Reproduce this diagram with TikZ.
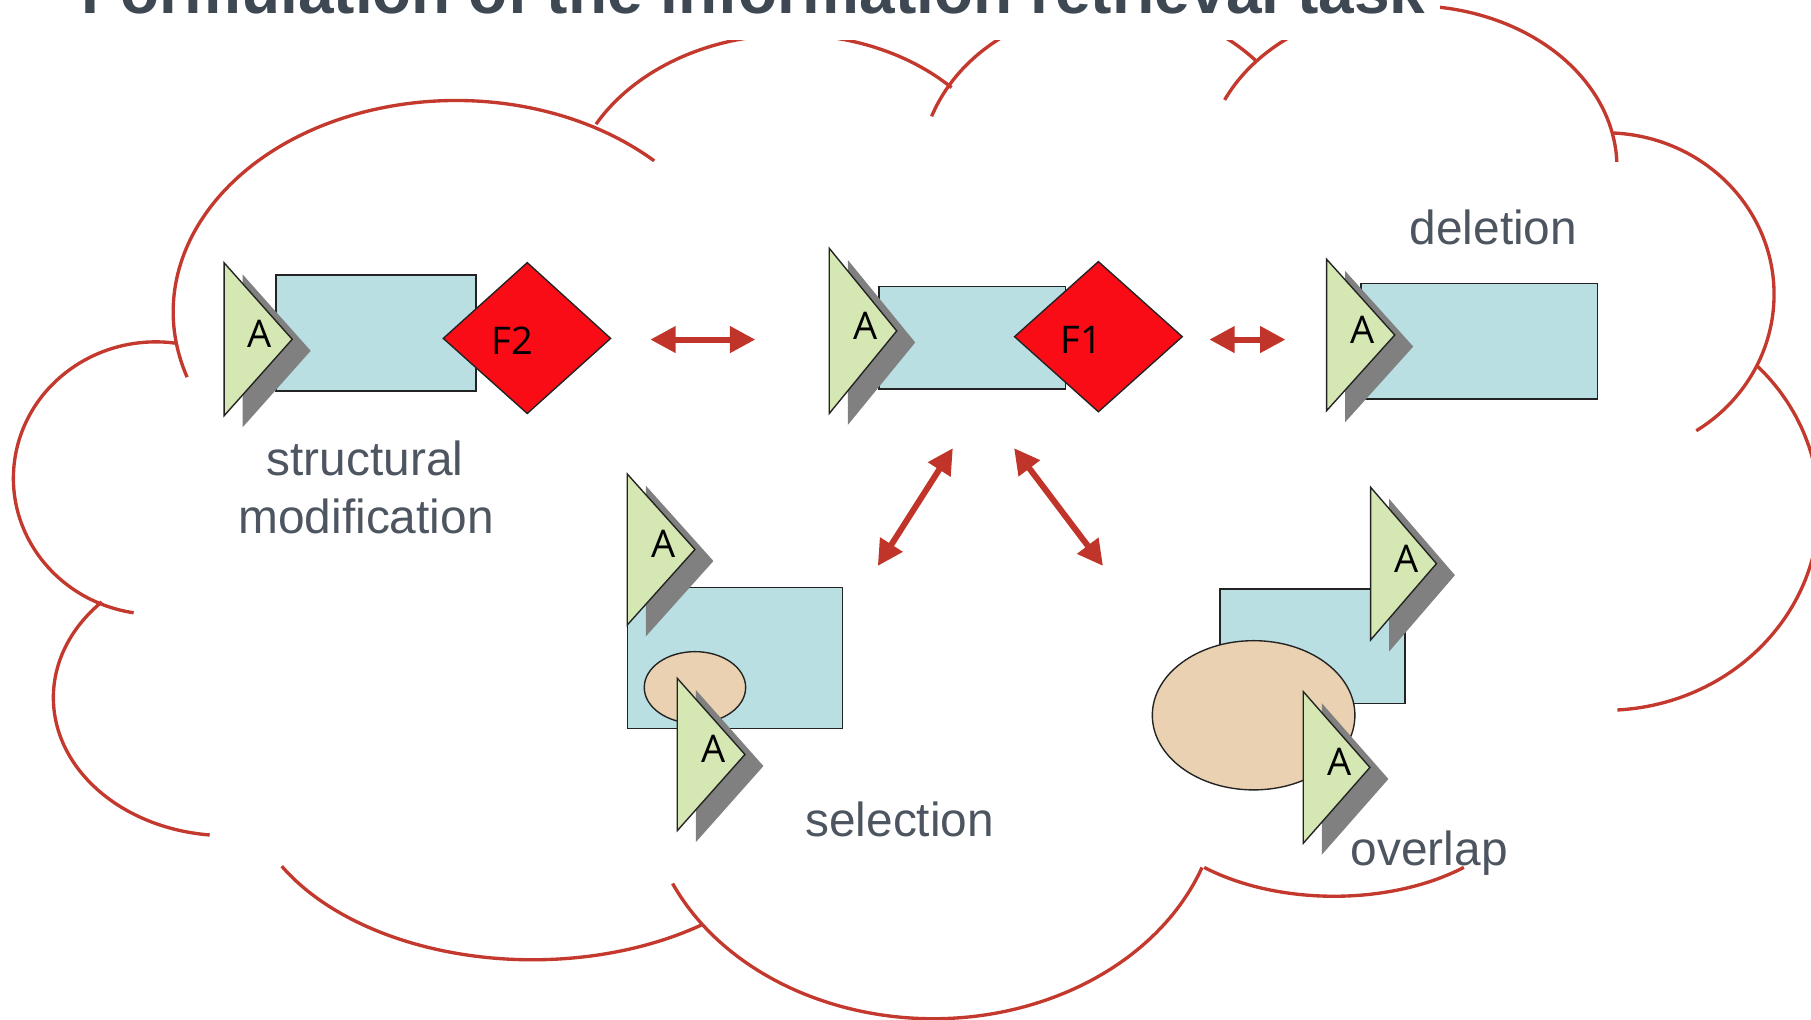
\documentclass[tikz,border=0pt]{standalone}
\usepackage{fontspec}
\setmainfont{Liberation Sans}
\newfontfamily\shapefont{Open Sans}
\usetikzlibrary{arrows.meta}

\definecolor{cloudred}{RGB}{196,57,45}
\definecolor{arrowred}{RGB}{192,52,42}
\definecolor{trigreen}{RGB}{213,232,180}
\definecolor{boxblue}{RGB}{185,223,227}
\definecolor{ovaltan}{RGB}{233,209,178}
\definecolor{diared}{RGB}{250,12,22}
\definecolor{shadowgray}{RGB}{128,128,128}
\definecolor{edgegray}{RGB}{35,35,35}
\definecolor{captiongray}{RGB}{77,86,96}
\definecolor{titlegray}{RGB}{62,72,82}

% one lobe of the cloud outline: centre x, centre y, x radius, y radius, start, end
\newcommand\cloudarc[6]{%
  \draw[cloudline] (#1,#2) ++(#5:#3 and #4)
    arc[start angle=#5, end angle=#6, x radius=#3, y radius=#4];}

% labelled triangle with its drop shadow: name, left x, top y, bottom y, width
\newcommand\atri[5]{%
  \fill[shadowgray] ({#2+16},{#3+10}) -- ({#2+16+#5},{(#3+#4)/2+10})
    -- ({#2+16},{#4+10}) -- cycle;
  \draw[trishape] (#2,#3) -- ({#2+#5},{(#3+#4)/2}) -- (#2,#4) -- cycle;
  \node[alabel] (#1) at ({#2+31},{(#3+#4)/2-4.5}) {A};}

\begin{document}
\begin{tikzpicture}[x=0.5pt, y=-0.5pt,
  cloudline/.style={draw=cloudred, line width=1.45pt},
  trishape/.style={fill=trigreen, draw=edgegray, line width=0.6pt, line join=miter},
  boxshape/.style={fill=boxblue, draw=edgegray, line width=0.6pt},
  ovalshape/.style={fill=ovaltan, draw=edgegray, line width=0.6pt},
  diashape/.style={fill=diared, draw=edgegray, line width=0.6pt},
  alabel/.style={inner sep=0pt, font=\shapefont\fontsize{16.5}{18}\selectfont, text=black},
  caption/.style={inner sep=0pt, font=\fontsize{20.7}{24}\selectfont, text=captiongray},
  titletext/.style={inner sep=0pt, font=\bfseries\fontsize{27.7}{32}\selectfont, text=titlegray},
  twoway/.style={draw=arrowred, line width=2.6pt,
    {Triangle[length=11pt,width=11pt]}-{Triangle[length=11pt,width=11pt]}},
]
\useasboundingbox (0,0) rectangle (1568,883);

% ---------- cloud outline ----------
\cloudarc{395}{270}{245}{183}{162}{314.4}
\cloudarc{685}{180}{193}{150}{208.9}{316}
\cloudarc{964}{150}{167.5}{144}{200}{318}
\cloudarc{1222}{145}{178}{140}{204.7}{358}
\cloudarc{1390}{255}{146}{140}{272}{417.4}
\cloudarc{1390}{440}{185}{175}{315.2}{446.8}
\cloudarc{1155}{676}{170}{100}{131.4}{48.6}
\cloudarc{808}{682}{248}{200}{155.5}{20.2}
\cloudarc{461}{676}{247}{155}{151.5}{53.7}
\cloudarc{196.2}{604}{150}{119.5}{223.9}{95.6}
\cloudarc{135}{414}{123.4}{118}{277.7}{99}

% ---------- title strip ----------
\fill[white] (-10,-80) rectangle (1247,34.5);
\node[titletext, anchor=base west] (title) at (70,12)
  {Formulation of the information retrieval task};

% ---------- structural modification ----------
\draw[boxshape] (239,238) rectangle (412,338.5);
\atri{a1}{194}{227.5}{360}{59}
\draw[diashape] (383.8,293) -- (456.5,227.4) -- (528.7,293) -- (456.5,358) -- cycle;
\node[alabel] (f2) at (443.6,294.6) {F2};
\node[caption, anchor=base] (capstruct) at (316,412) {structural};
\node[caption, anchor=base] (capmod) at (317,462) {modification};

% ---------- original element ----------
\draw[boxshape] (761,248.2) rectangle (922.7,336.8);
\atri{a2}{718}{215}{358}{58.4}
\draw[diashape] (878.4,291.5) -- (951,226.5) -- (1023.6,291.5) -- (951,356.5) -- cycle;
\node[alabel] (f1) at (936,294.4) {F1};

% ---------- deletion ----------
\draw[boxshape] (1178.3,245.3) rectangle (1383.2,345.4);
\atri{a3}{1148.6}{224.5}{355.6}{59}
\node[caption, anchor=base] (capdel) at (1293,211.3) {deletion};

% ---------- selection ----------
\draw[boxshape] (543.1,508.8) rectangle (729.3,630.6);
\atri{a4}{543.1}{410.4}{541.1}{58.6}
\draw[ovalshape] (601.7,595.2) ellipse[x radius=43.9, y radius=31];
\atri{a5}{586.4}{587.3}{719.2}{58.6}
\node[caption, anchor=base] (capsel) at (779,724) {selection};

% ---------- overlap ----------
\draw[boxshape] (1056.3,510) rectangle (1216.4,608.9);
\atri{a6}{1186.7}{421.9}{554.1}{57}
\draw[ovalshape] (1085.4,619.3) ellipse[x radius=87.7, y radius=64.6];
\atri{a7}{1128.4}{598.8}{730.1}{57.7}
\node[caption, anchor=base] (capovl) at (1237.5,749) {overlap};

% ---------- relations ----------
\coordinate (left1) at (563,294);   \coordinate (left2) at (654,294);
\coordinate (right1) at (1047,294); \coordinate (right2) at (1113,294);
\coordinate (sel1) at (825,388);    \coordinate (sel2) at (760,490);
\coordinate (ovl1) at (878,388);    \coordinate (ovl2) at (955,490);
\draw[twoway] (left1) -- (left2);
\draw[twoway] (right1) -- (right2);
\draw[twoway] (sel1) -- (sel2);
\draw[twoway] (ovl1) -- (ovl2);
\end{tikzpicture}
\end{document}
